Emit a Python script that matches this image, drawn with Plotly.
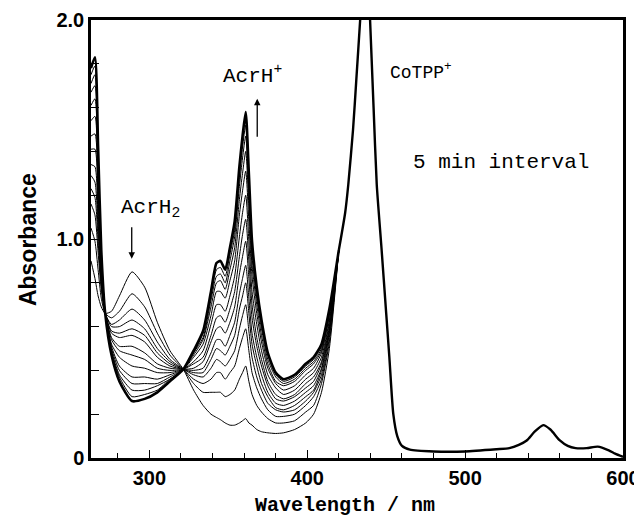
import plotly.graph_objects as go

# Wavelength grid (nm) for the time-resolved region
wl_grid = [263, 265.5, 267.5, 269.5, 272, 276, 281, 289, 297, 305, 313, 321.5,
           328, 334, 339, 342.5, 345, 348, 351, 354, 357, 359, 361, 363, 365,
           368, 371, 375, 380, 385, 392, 399, 404, 409, 414, 420]

# Spectra recorded at 5 min intervals (absorbance)
spec_00 = [0.90, 0.82, 0.74, 0.69, 0.66, 0.67, 0.74, 0.85, 0.78, 0.62, 0.49, 0.405,
           0.31, 0.24, 0.20, 0.185, 0.175, 0.16, 0.15, 0.15, 0.16, 0.17, 0.18, 0.16, 0.15,
           0.13, 0.12, 0.115, 0.112, 0.115, 0.13, 0.16, 0.20, 0.30, 0.50, 0.95]
spec_01 = [1.05, 0.99, 0.86, 0.73, 0.66, 0.64, 0.67, 0.75, 0.69, 0.57, 0.47, 0.405,
           0.34, 0.30, 0.30, 0.30, 0.30, 0.28, 0.29, 0.31, 0.36, 0.39, 0.42, 0.35, 0.29,
           0.24, 0.21, 0.18, 0.16, 0.16, 0.17, 0.21, 0.24, 0.34, 0.53, 0.95]
spec_02 = [1.16, 1.11, 0.94, 0.77, 0.66, 0.61, 0.63, 0.68, 0.63, 0.53, 0.45, 0.405,
           0.36, 0.34, 0.36, 0.39, 0.39, 0.36, 0.39, 0.42, 0.50, 0.55, 0.59, 0.49, 0.39,
           0.32, 0.27, 0.22, 0.19, 0.19, 0.20, 0.24, 0.28, 0.36, 0.55, 0.95]
spec_03 = [1.23, 1.19, 0.99, 0.79, 0.66, 0.60, 0.60, 0.63, 0.59, 0.50, 0.44, 0.405,
           0.38, 0.37, 0.41, 0.45, 0.44, 0.42, 0.45, 0.49, 0.59, 0.65, 0.70, 0.58, 0.46,
           0.37, 0.31, 0.25, 0.22, 0.21, 0.22, 0.26, 0.30, 0.38, 0.57, 0.95]
spec_04 = [1.29, 1.26, 1.04, 0.80, 0.66, 0.58, 0.57, 0.59, 0.56, 0.48, 0.43, 0.405,
           0.39, 0.39, 0.45, 0.50, 0.49, 0.47, 0.51, 0.56, 0.68, 0.74, 0.80, 0.66, 0.52,
           0.42, 0.34, 0.28, 0.23, 0.22, 0.24, 0.28, 0.31, 0.40, 0.58, 0.95]
spec_05 = [1.34, 1.33, 1.08, 0.82, 0.66, 0.57, 0.55, 0.56, 0.53, 0.46, 0.42, 0.405,
           0.40, 0.41, 0.48, 0.54, 0.54, 0.51, 0.56, 0.62, 0.75, 0.82, 0.88, 0.73, 0.57,
           0.46, 0.38, 0.30, 0.25, 0.24, 0.26, 0.30, 0.33, 0.41, 0.59, 0.95]
spec_06 = [1.41, 1.41, 1.13, 0.84, 0.66, 0.55, 0.51, 0.51, 0.48, 0.43, 0.41, 0.405,
           0.41, 0.44, 0.53, 0.59, 0.60, 0.57, 0.62, 0.69, 0.84, 0.92, 0.99, 0.82, 0.64,
           0.51, 0.42, 0.33, 0.27, 0.26, 0.28, 0.32, 0.35, 0.43, 0.60, 0.95]
spec_07 = [1.47, 1.48, 1.18, 0.86, 0.66, 0.54, 0.49, 0.47, 0.45, 0.41, 0.40, 0.405,
           0.43, 0.46, 0.56, 0.64, 0.65, 0.62, 0.68, 0.76, 0.92, 1.02, 1.09, 0.90, 0.70,
           0.55, 0.45, 0.35, 0.29, 0.27, 0.29, 0.34, 0.37, 0.44, 0.62, 0.95]
spec_08 = [1.54, 1.56, 1.24, 0.88, 0.66, 0.52, 0.46, 0.42, 0.41, 0.39, 0.39, 0.405,
           0.44, 0.49, 0.61, 0.70, 0.70, 0.67, 0.74, 0.83, 1.01, 1.12, 1.20, 0.99, 0.76,
           0.61, 0.49, 0.38, 0.32, 0.29, 0.31, 0.36, 0.39, 0.46, 0.63, 0.95]
spec_09 = [1.61, 1.64, 1.29, 0.90, 0.66, 0.51, 0.42, 0.37, 0.37, 0.36, 0.38, 0.405,
           0.46, 0.52, 0.65, 0.76, 0.76, 0.73, 0.81, 0.90, 1.11, 1.22, 1.31, 1.08, 0.83,
           0.66, 0.53, 0.41, 0.34, 0.31, 0.33, 0.38, 0.41, 0.48, 0.65, 0.95]
spec_10 = [1.67, 1.70, 1.33, 0.92, 0.66, 0.50, 0.40, 0.34, 0.34, 0.34, 0.37, 0.405,
           0.47, 0.54, 0.69, 0.80, 0.81, 0.77, 0.86, 0.96, 1.18, 1.30, 1.40, 1.15, 0.88,
           0.70, 0.56, 0.43, 0.35, 0.33, 0.35, 0.40, 0.43, 0.49, 0.66, 0.95]
spec_11 = [1.71, 1.75, 1.37, 0.93, 0.66, 0.49, 0.38, 0.31, 0.31, 0.33, 0.36, 0.405,
           0.48, 0.55, 0.72, 0.83, 0.84, 0.80, 0.90, 1.01, 1.24, 1.37, 1.47, 1.21, 0.92,
           0.73, 0.59, 0.45, 0.37, 0.34, 0.36, 0.41, 0.44, 0.50, 0.67, 0.95]
spec_12 = [1.75, 1.79, 1.39, 0.94, 0.66, 0.48, 0.37, 0.28, 0.29, 0.31, 0.36, 0.405,
           0.48, 0.57, 0.74, 0.86, 0.87, 0.83, 0.93, 1.04, 1.28, 1.42, 1.52, 1.25, 0.96,
           0.75, 0.61, 0.47, 0.38, 0.35, 0.37, 0.42, 0.45, 0.51, 0.67, 0.95]
spec_13 = [1.78, 1.83, 1.42, 0.95, 0.66, 0.47, 0.35, 0.26, 0.27, 0.30, 0.35, 0.405,
           0.49, 0.58, 0.76, 0.89, 0.90, 0.86, 0.96, 1.08, 1.33, 1.47, 1.58, 1.30, 0.99,
           0.78, 0.63, 0.48, 0.39, 0.36, 0.38, 0.43, 0.46, 0.52, 0.68, 0.95]

spectra = [spec_00, spec_01, spec_02, spec_03, spec_04, spec_05, spec_06,
           spec_07, spec_08, spec_09, spec_10, spec_11, spec_12, spec_13]

# Common CoTPP+ region (all spectra overlap)
tail_wl = [420, 424, 426, 429, 431, 433.5, 436, 437.5, 439.5, 442, 444, 447, 450,
           452, 454.5, 457, 460, 465, 480, 500, 520, 528, 534, 539, 544, 549.5,
           554, 560, 565, 570, 577, 584, 591, 595, 600]
tail_abs = [0.95, 1.12, 1.25, 1.50, 1.72, 2.00, 2.30, 2.40, 2.05, 1.60, 1.25, 0.96, 0.66,
            0.46, 0.20, 0.10, 0.055, 0.038, 0.03, 0.03, 0.04, 0.045, 0.06, 0.08, 0.12, 0.15,
            0.13, 0.08, 0.055, 0.045, 0.045, 0.052, 0.035, 0.02, 0.005]

x_tick_vals = [300, 400, 500, 600]
y_tick_vals = [0, 1, 2]
y_tick_text = ["0", "1.0", "2.0"]

fig = go.Figure()
n = len(spectra)
for i, s in enumerate(spectra):
    last = (i == n - 1)
    fig.add_trace(go.Scatter(
        x=wl_grid, y=s, mode="lines",
        line=dict(color="black", width=2.6 if last else 1.0, shape="spline", smoothing=0.6),
        showlegend=False, hoverinfo="skip"))
fig.add_trace(go.Scatter(
    x=tail_wl, y=tail_abs, mode="lines",
    line=dict(color="black", width=2.4, shape="spline", smoothing=0.6),
    showlegend=False, hoverinfo="skip"))

mono = "Liberation Mono, Courier New, monospace"
sans = "Liberation Sans, Arial, sans-serif"

annos = [
    dict(x=300.5, y=1.14, text="AcrH<sub>2</sub>", showarrow=False,
         font=dict(family=mono, size=21, color="black")),
    dict(x=288.8, y=0.91, ax=288.8, ay=1.06, xref="x", yref="y", axref="x", ayref="y",
         text="", showarrow=True, arrowhead=2, arrowsize=1, arrowwidth=1.3, arrowcolor="black"),
    dict(x=365.5, y=1.75, text="AcrH<sup>+</sup>", showarrow=False,
         font=dict(family=mono, size=21, color="black")),
    dict(x=368.3, y=1.64, ax=368.3, ay=1.46, xref="x", yref="y", axref="x", ayref="y",
         text="", showarrow=True, arrowhead=2, arrowsize=1, arrowwidth=1.3, arrowcolor="black"),
    dict(x=451, y=1.765, text="CoTPP<sup>+</sup>", showarrow=False, xanchor="left",
         font=dict(family=mono, size=18, color="black")),
    dict(x=522.7, y=1.35, text="5 min interval", showarrow=False,
         font=dict(family=mono, size=21, color="black")),
    dict(x=0.477, y=-0.109, xref="paper", yref="paper", text="Wavelength / nm",
         showarrow=False, xanchor="center", yanchor="middle",
         font=dict(family=mono, size=20, color="black", weight="bold")),
    dict(x=-0.118, y=0.498, xref="paper", yref="paper", text="Absorbance",
         showarrow=False, textangle=-90, xanchor="center", yanchor="middle",
         font=dict(family=sans, size=23, color="black", weight="bold")),
]

# The page body adds an 8 px offset, so the figure is 8 px smaller each way
fig.update_layout(
    width=634, height=509,
    margin=dict(l=83, r=19, t=12, b=59, autoexpand=False),
    paper_bgcolor="white", plot_bgcolor="white",
    annotations=annos,
    showlegend=False,
)
fig.update_xaxes(
    range=[263, 600], showgrid=False, zeroline=False, automargin=False,
    showline=True, linecolor="black", linewidth=2.5, mirror=True,
    tickmode="array", tickvals=x_tick_vals,
    ticks="inside", ticklen=8, tickwidth=1.3, tickcolor="black",
    tickfont=dict(family=sans, size=20, color="black", weight="bold"),
    minor=dict(dtick=20, tick0=300, ticks="inside", ticklen=5, tickwidth=1, tickcolor="black"),
)
fig.update_yaxes(
    range=[0, 2.0], showgrid=False, zeroline=False, automargin=False,
    showline=True, linecolor="black", linewidth=2.5, mirror=True,
    tickmode="array", tickvals=y_tick_vals, ticktext=y_tick_text,
    ticks="inside", ticklen=9, tickwidth=1.3, tickcolor="black",
    tickfont=dict(family=sans, size=20, color="black", weight="bold"),
    minor=dict(dtick=0.2, tick0=0, ticks="inside", ticklen=8, tickwidth=1, tickcolor="black"),
)

fig.write_html("out.html")
